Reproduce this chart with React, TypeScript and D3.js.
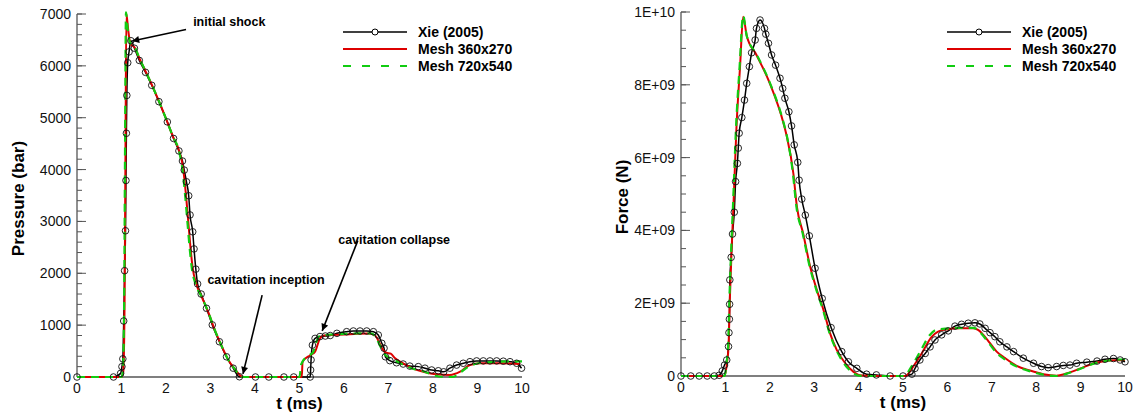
import React from "react";
import * as d3 from "d3";

// ---- data: left panel, pressure (bar) vs t (ms)
const xieP: [number, number][] = [
  [0, 0], [0.82, 0], [0.98, 70], [1.01, 200], [1.03, 350], [1.05, 1080], [1.07, 2050], [1.09, 2820],
  [1.10, 3790], [1.11, 4700], [1.12, 5430], [1.14, 6060], [1.17, 6270], [1.21, 6485], [1.29, 6340],
  [1.40, 6105], [1.54, 5875], [1.68, 5625], [1.84, 5310], [2.03, 4920], [2.17, 4600], [2.29, 4360],
  [2.37, 4165], [2.41, 3990], [2.46, 3765], [2.51, 3495], [2.54, 3125], [2.60, 2800], [2.63, 2470],
  [2.67, 2080], [2.71, 1795], [2.79, 1600], [2.91, 1325], [3.04, 1005], [3.20, 680], [3.36, 390],
  [3.51, 170], [3.65, 5], [4.01, 0], [4.31, 0], [4.65, 0], [4.87, 0], [5.24, 0], [5.25, 135],
  [5.26, 330], [5.29, 615], [5.35, 745], [5.46, 780], [5.58, 790], [5.69, 800], [5.84, 842],
  [6.06, 874], [6.21, 887], [6.36, 887], [6.51, 887], [6.66, 874], [6.77, 810], [6.85, 650],
  [6.90, 555], [6.93, 390], [7.03, 315], [7.18, 275], [7.33, 250], [7.48, 210], [7.67, 200],
  [7.82, 170], [7.97, 135], [8.12, 120], [8.24, 100], [8.38, 170], [8.53, 230], [8.68, 265],
  [8.83, 295], [8.98, 310], [9.13, 310], [9.28, 310], [9.43, 310], [9.58, 305], [9.73, 295],
  [9.88, 265], [9.99, 170]
];
const mesh360P: [number, number][] = [
  [0, 0], [1.0, 0], [1.04, 100], [1.07, 1500], [1.09, 4500], [1.11, 7000], [1.15, 6700], [1.2, 6420],
  [1.3, 6350], [1.4, 6150], [1.55, 5880], [1.7, 5600], [1.85, 5300], [2.0, 4980], [2.15, 4650],
  [2.3, 4350], [2.38, 4050], [2.45, 3500], [2.5, 3000], [2.55, 2500], [2.6, 2100], [2.68, 1800],
  [2.8, 1550], [2.95, 1250], [3.1, 900], [3.25, 600], [3.4, 330], [3.55, 150], [3.7, 10], [3.75, 0],
  [5.05, 0], [5.07, 295], [5.24, 420], [5.35, 490], [5.46, 746], [5.55, 800], [5.76, 810],
  [6.0, 820], [6.3, 835], [6.55, 840], [6.7, 800], [6.8, 650], [6.88, 520], [6.95, 470],
  [7.05, 450], [7.15, 360], [7.33, 264], [7.55, 160], [7.78, 102], [8.08, 52], [8.38, 39],
  [8.61, 102], [8.83, 231], [9.06, 264], [9.51, 264], [9.96, 250]
];
const mesh720P: [number, number][] = [
  [0, 0], [1.0, 0], [1.03, 100], [1.06, 1500], [1.08, 4500], [1.10, 7030], [1.14, 6700], [1.19, 6450],
  [1.3, 6360], [1.4, 6150], [1.55, 5880], [1.7, 5600], [1.85, 5300], [2.0, 4980], [2.15, 4650],
  [2.3, 4330], [2.37, 4000], [2.43, 3500], [2.48, 3000], [2.53, 2500], [2.58, 2100], [2.66, 1800],
  [2.8, 1550], [2.95, 1250], [3.1, 900], [3.25, 600], [3.4, 330], [3.55, 150], [3.68, 10], [3.73, 0],
  [5.0, 0], [5.04, 250], [5.18, 400], [5.3, 470], [5.38, 680], [5.45, 790], [5.6, 810], [6.0, 830],
  [6.3, 840], [6.6, 840], [6.7, 790], [6.8, 620], [6.9, 450], [7.0, 380], [7.15, 320], [7.35, 230],
  [7.55, 160], [7.75, 120], [8.0, 40], [8.2, 5], [8.45, 0], [8.6, 80], [8.8, 200], [9.05, 270],
  [9.4, 290], [9.7, 300], [10, 300]
];

// ---- data: right panel, force (1E+09 N) vs t (ms)
const xieF: [number, number][] = [
  [0, 0], [0.22, 0], [0.41, 0], [0.59, 0], [0.75, 0], [0.86, 0.02], [0.93, 0.14], [0.98, 0.3],
  [1.03, 0.44], [1.07, 0.81], [1.08, 1.19], [1.09, 1.56], [1.095, 1.97], [1.10, 2.64], [1.13, 3.26],
  [1.16, 3.9], [1.20, 4.5], [1.23, 5.34], [1.27, 5.84], [1.29, 6.26], [1.31, 6.67], [1.37, 7.10],
  [1.43, 7.58], [1.48, 8.04], [1.54, 8.5], [1.59, 8.88], [1.67, 9.23], [1.70, 9.55], [1.78, 9.78],
  [1.88, 9.55], [1.91, 9.39], [1.97, 9.14], [2.04, 8.82], [2.13, 8.54], [2.23, 8.18], [2.29, 7.9],
  [2.34, 7.63], [2.43, 7.26], [2.49, 6.87], [2.55, 6.35], [2.63, 5.87], [2.66, 5.38], [2.72, 4.86],
  [2.8, 4.42], [2.89, 3.85], [3.02, 2.96], [3.18, 2.13], [3.38, 1.33], [3.62, 0.67], [3.77, 0.39],
  [3.96, 0.21], [4.18, 0.05], [4.4, 0.03], [4.71, 0], [5.0, 0], [5.2, 0.05], [5.27, 0.21],
  [5.38, 0.44], [5.5, 0.62], [5.61, 0.8], [5.72, 0.99], [5.87, 1.13], [6.02, 1.24], [6.17, 1.37],
  [6.32, 1.42], [6.47, 1.45], [6.62, 1.46], [6.73, 1.43], [6.85, 1.31], [6.96, 1.19], [7.07, 1.08],
  [7.18, 0.94], [7.34, 0.8], [7.49, 0.67], [7.71, 0.49], [7.94, 0.35], [8.12, 0.26], [8.27, 0.23],
  [8.46, 0.26], [8.61, 0.29], [8.76, 0.3], [8.91, 0.35], [9.14, 0.38], [9.37, 0.41], [9.55, 0.46],
  [9.74, 0.48], [9.89, 0.44], [10, 0.39]
];
const mesh360F: [number, number][] = [
  [0, 0], [0.98, 0], [1.04, 0.4], [1.07, 0.8], [1.10, 2.1], [1.14, 3.46], [1.18, 4.65], [1.25, 6.85],
  [1.33, 8.5], [1.40, 9.87], [1.48, 9.35], [1.70, 8.82], [2.0, 8.04], [2.31, 6.94], [2.38, 6.6],
  [2.53, 5.57], [2.61, 4.65], [2.75, 3.92], [2.91, 3.0], [3.06, 2.36], [3.21, 1.81], [3.35, 1.2],
  [3.51, 0.71], [3.7, 0.35], [3.88, 0.12], [4.03, 0.02], [4.3, 0], [5.05, 0], [5.23, 0.26],
  [5.42, 0.62], [5.65, 1.08], [5.79, 1.22], [5.98, 1.28], [6.28, 1.31], [6.58, 1.31], [6.70, 1.26],
  [6.81, 1.13], [6.96, 0.9], [7.11, 0.67], [7.3, 0.49], [7.56, 0.28], [7.86, 0.15], [8.16, 0.05],
  [8.46, 0.01], [8.68, 0.07], [9.0, 0.21], [9.3, 0.35], [9.6, 0.42], [10, 0.44]
];
const mesh720F: [number, number][] = [
  [0, 0], [0.98, 0], [1.03, 0.4], [1.06, 0.8], [1.09, 2.1], [1.13, 3.46], [1.17, 4.65], [1.24, 6.85],
  [1.32, 8.5], [1.40, 9.9], [1.48, 9.35], [1.70, 8.84], [2.0, 8.06], [2.31, 6.96], [2.38, 6.62],
  [2.52, 5.57], [2.60, 4.65], [2.74, 3.92], [2.90, 3.0], [3.05, 2.36], [3.20, 1.81], [3.34, 1.2],
  [3.50, 0.71], [3.68, 0.33], [3.86, 0.1], [4.0, 0.01], [4.3, 0], [5.02, 0], [5.2, 0.28],
  [5.4, 0.7], [5.6, 1.12], [5.75, 1.27], [5.95, 1.3], [6.28, 1.32], [6.58, 1.32], [6.70, 1.25],
  [6.81, 1.1], [6.96, 0.86], [7.11, 0.63], [7.3, 0.45], [7.56, 0.26], [7.86, 0.13], [8.16, 0.04],
  [8.46, 0.0], [8.68, 0.06], [9.0, 0.2], [9.3, 0.34], [9.6, 0.42], [10, 0.46]
];

const xTicks = [0, 1, 2, 3, 4, 5, 6, 7, 8, 9, 10];
const pTicks = [0, 1000, 2000, 3000, 4000, 5000, 6000, 7000];
const fTicks = [0, 2, 4, 6, 8, 10];
const fTickLabels = ["0", "2E+09", "4E+09", "6E+09", "8E+09", "1E+10"];
const legendNames = ["Xie (2005)", "Mesh 360x270", "Mesh 720x540"];

const FONT = "'Liberation Sans', Arial, Helvetica, sans-serif";
const RED = "#dd0000";
const GREEN = "#11cc11";
const AXIS = "#555";

type Pt = [number, number];

const Panel = ({ xr, yr, ydom, yTicks, yLabels, yMinor, yTitle, yTitleX, series, legendX }: any) => {
  const x = d3.scaleLinear().domain([0, 10]).range(xr);
  const y = d3.scaleLinear().domain(ydom).range(yr);
  const line = d3.line<Pt>().x(d => x(d[0])).y(d => y(d[1])).curve(d3.curveMonotoneX);
  const minors = d3.range(ydom[0], ydom[1] + 1e-9, yMinor);
  return (
    <g>
      {/* y axis */}
      <line x1={xr[0]} x2={xr[0]} y1={yr[0]} y2={yr[1]} stroke={AXIS} strokeWidth={1.3} />
      <line x1={xr[0]} x2={xr[1]} y1={yr[0]} y2={yr[0]} stroke={AXIS} strokeWidth={1.3} />
      {minors.map((v: number, i: number) => (
        <line key={"m" + i} x1={xr[0]} x2={xr[0] + 5} y1={y(v)} y2={y(v)} stroke={AXIS} strokeWidth={1} />
      ))}
      {yTicks.map((v: number, i: number) => (
        <g key={"t" + i}>
          <line x1={xr[0]} x2={xr[0] + 9} y1={y(v)} y2={y(v)} stroke={AXIS} strokeWidth={1} />
          <text x={xr[0] - 6} y={y(v) + 5} textAnchor="end" fontSize={14} fontFamily={FONT} fill="#111">
            {yLabels[i]}
          </text>
        </g>
      ))}
      {xTicks.map(v => (
        <text key={"x" + v} x={x(v)} y={yr[0] + 16} textAnchor="middle" fontSize={14} fontFamily={FONT} fill="#111">
          {v}
        </text>
      ))}
      <text x={(xr[0] + xr[1]) / 2} y={yr[0] + 32} textAnchor="middle" fontSize={17} fontWeight="bold" fontFamily={FONT}>
        t (ms)
      </text>
      <text transform={`translate(${yTitleX},${(yr[0] + yr[1]) / 2 + 3}) rotate(-90)`} textAnchor="middle"
        fontSize={17} fontWeight="bold" fontFamily={FONT}>
        {yTitle}
      </text>
      {/* curves */}
      <path d={line(series[0]) || ""} fill="none" stroke="#000" strokeWidth={1.5} />
      <path d={line(series[1]) || ""} fill="none" stroke={RED} strokeWidth={2} />
      <path d={line(series[2]) || ""} fill="none" stroke={GREEN} strokeWidth={2.2} strokeDasharray="8,6" />
      {series[0].map((d: Pt, i: number) => (
        <circle key={"c" + i} cx={x(d[0])} cy={y(d[1])} r={3.3} fill="none" stroke="#111" strokeWidth={0.9} />
      ))}
      {/* legend */}
      {legendNames.map((name, i) => {
        const ly = 32 + i * 17;
        return (
          <g key={name}>
            <line x1={legendX} x2={legendX + 64} y1={ly} y2={ly}
              stroke={i === 0 ? "#000" : i === 1 ? RED : GREEN}
              strokeWidth={i === 0 ? 1.5 : 2} strokeDasharray={i === 2 ? "8,11" : undefined} />
            {i === 0 && <circle cx={legendX + 32} cy={ly} r={3} fill="#fff" stroke="#000" strokeWidth={1} />}
            <text x={legendX + 75} y={ly + 5} fontSize={14} fontWeight="bold" fontFamily={FONT}>{name}</text>
          </g>
        );
      })}
    </g>
  );
};

// annotations on the pressure panel, in data units (t, P)
const notes = [
  { text: "initial shock", at: [2.61, 6760], from: [2.45, 6700], to: [1.24, 6480] },
  { text: "cavitation inception", at: [2.93, 1800], from: [4.16, 1580], to: [3.73, 60] },
  { text: "cavitation collapse", at: [5.87, 2570], from: [6.31, 2630], to: [5.51, 890] }
];

export default function App() {
  const xL = d3.scaleLinear().domain([0, 10]).range([77, 522]);
  const yL = d3.scaleLinear().domain([0, 7000]).range([377, 14]);
  return (
    <svg width={1135} height={419} style={{ position: "absolute", left: 0, top: 0, background: "#fff" }}>
      <defs>
        <marker id="arr" viewBox="0 0 10 10" refX={10} refY={5} markerWidth={9} markerHeight={7}
          markerUnits="userSpaceOnUse" orient="auto">
          <path d="M0,0 L10,5 L0,10 z" fill="#000" />
        </marker>
      </defs>
      <Panel xr={[77, 522]} yr={[377, 14]} ydom={[0, 7000]} yTicks={pTicks} yLabels={pTicks.map(String)}
        yMinor={200} yTitle="Pressure (bar)" yTitleX={24} series={[xieP, mesh360P, mesh720P]} legendX={343} />
      <Panel xr={[681, 1125]} yr={[376, 12]} ydom={[0, 10]} yTicks={fTicks} yLabels={fTickLabels}
        yMinor={0.5} yTitle="Force (N)" yTitleX={628} series={[xieF, mesh360F, mesh720F]} legendX={947} />
      {notes.map(n => (
        <g key={n.text}>
          <line x1={xL(n.from[0])} y1={yL(n.from[1])} x2={xL(n.to[0])} y2={yL(n.to[1])}
            stroke="#000" strokeWidth={1.6} markerEnd="url(#arr)" />
          <text x={xL(n.at[0])} y={yL(n.at[1])} fontSize={12.5} fontWeight="bold" fontFamily={FONT}>{n.text}</text>
        </g>
      ))}
    </svg>
  );
}
